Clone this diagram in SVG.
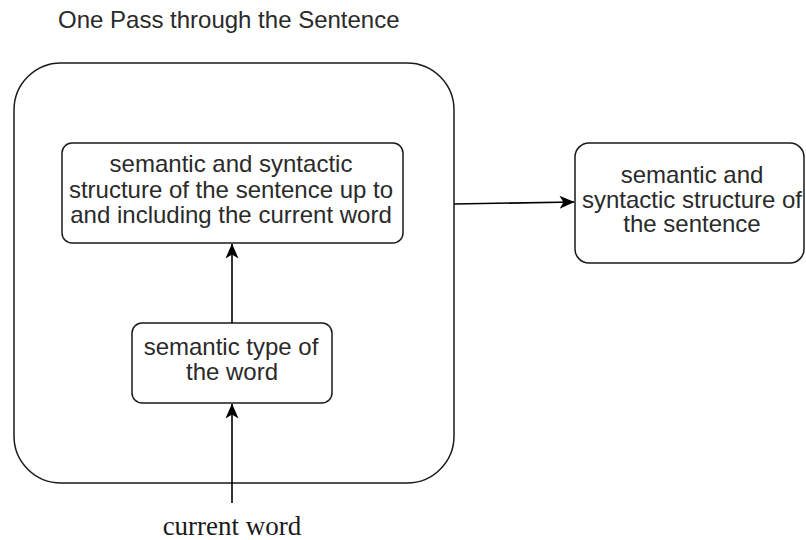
<svg xmlns="http://www.w3.org/2000/svg" width="806" height="540" viewBox="0 0 806 540">
  <style>
    .box { fill: #ffffff; stroke: #1a1a1a; stroke-width: 1.5; }
    .lbl { font-family: "Liberation Sans", Arial, sans-serif; font-size: 24px; fill: #2a2a2a; text-anchor: middle; }
    .title { font-family: "Liberation Sans", Arial, sans-serif; font-size: 24px; fill: #2a2a2a; }
    .serif { font-family: "Liberation Serif", "Times New Roman", serif; font-size: 27px; fill: #1a1a1a; text-anchor: middle; }
    .edge { fill: none; stroke: #000000; stroke-width: 1.6; }
  </style>
  <defs>
    <!-- classic notched arrowhead, sized in user units -->
    <marker id="arrow" viewBox="0 0 15 13" refX="14.5" refY="6.5" markerWidth="15" markerHeight="13" markerUnits="userSpaceOnUse" orient="auto">
      <path d="M0,0 L15,6.5 L0,13 L4,6.5 Z" fill="#000000"/>
    </marker>
  </defs>
  <rect width="806" height="540" fill="#ffffff"/>

  <text class="title" x="58" y="28">One Pass through the Sentence</text>

  <g id="pass">
    <rect class="box" x="14" y="63" width="440" height="420" rx="47" ry="47"/>
  </g>

  <g id="partial-structure">
    <rect class="box" x="62" y="143" width="341" height="100" rx="10" ry="10"/>
    <text class="lbl" x="231" y="172">semantic and syntactic</text>
    <text class="lbl" x="231" y="197.5">structure of the sentence up to</text>
    <text class="lbl" x="231" y="223">and including the current word</text>
  </g>

  <g id="word-type">
    <rect class="box" x="132" y="323" width="200" height="80" rx="10" ry="10"/>
    <text class="lbl" x="231" y="355">semantic type of</text>
    <text class="lbl" x="232" y="380">the word</text>
  </g>

  <g id="sentence-structure">
    <rect class="box" x="575" y="143" width="229" height="120" rx="14" ry="14"/>
    <text class="lbl" x="692" y="183">semantic and</text>
    <text class="lbl" x="692" y="207.5">syntactic structure of</text>
    <text class="lbl" x="692" y="232">the sentence</text>
  </g>

  <g id="input">
    <text class="serif" x="232" y="535">current word</text>
  </g>

  <g id="connectors">
    <path class="edge" d="M232,503 L232,404" marker-end="url(#arrow)"/>
    <path class="edge" d="M232,323 L232,244" marker-end="url(#arrow)"/>
    <path class="edge" d="M454,204 L574,202" marker-end="url(#arrow)"/>
  </g>
</svg>
